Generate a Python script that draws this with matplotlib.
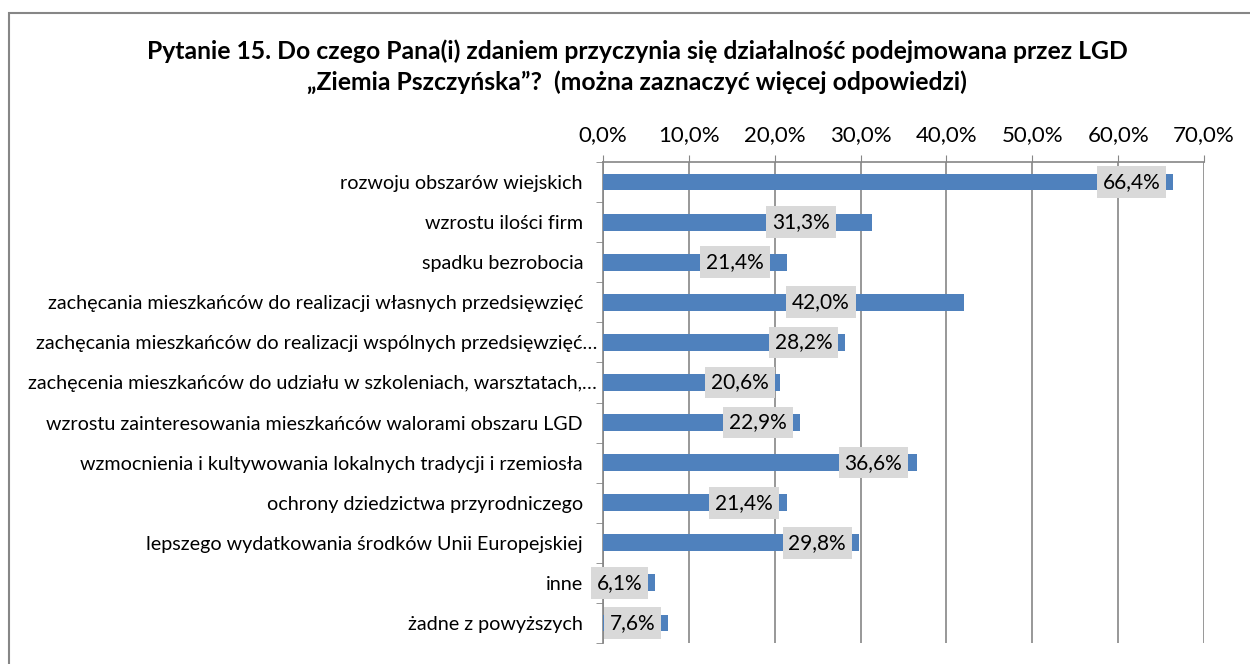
import matplotlib.pyplot as plt
from matplotlib.patches import Rectangle
from matplotlib.ticker import FixedLocator, FuncFormatter
from matplotlib.transforms import ScaledTranslation

# Dane z wykresu
categories = [
    "rozwoju obszarów wiejskich",
    "wzrostu ilości firm",
    "spadku bezrobocia",
    "zachęcania mieszkańców do realizacji własnych przedsięwzięć",
    "zachęcania mieszkańców do realizacji wspólnych przedsięwzięć…",
    "zachęcenia mieszkańców do udziału w szkoleniach, warsztatach,…",
    "wzrostu zainteresowania mieszkańców walorami obszaru LGD",
    "wzmocnienia i kultywowania lokalnych tradycji i rzemiosła",
    "ochrony dziedzictwa przyrodniczego",
    "lepszego wydatkowania środków Unii Europejskiej",
    "inne",
    "żadne z powyższych",
]
values = [66.4, 31.3, 21.4, 42.0, 28.2, 20.6, 22.9, 36.6, 21.4, 29.8, 6.1, 7.6]
x_ticks = [0, 10, 20, 30, 40, 50, 60, 70]

# przesunięcie prawej krawędzi ramki etykiety względem końca słupka (piksele)
label_shift = [-7, -36, -17, -108, -7, -5, -7, -9, -8, -7, -7, -7]

title = ("Pytanie 15. Do czego Pana(i) zdaniem przyczynia się działalność podejmowana przez LGD\n"
         "„Ziemia Pszczyńska”?  (można zaznaczyć więcej odpowiedzi)")

plt.rcParams['font.family'] = ['Lato', 'DejaVu Sans']
grey = '#868686'

fig = plt.figure(figsize=(12.5, 6.64), dpi=100)
ax = fig.add_axes([0.4824, 0.0316, 0.4808, 0.7244])

y = list(range(len(categories)))
ax.barh(y, values, height=0.42, color='#4F81BD', zorder=3)

# Etykiety danych w szarych ramkach
fs = 15
pad_px = 0.28 * fs * 100 / 72
for i, v in enumerate(values):
    ax.annotate(f"{v:.1f}%".replace('.', ','), xy=(v, i),
                xytext=(label_shift[i] - pad_px, 0), textcoords='offset pixels',
                ha='right', va='center', fontsize=fs, color='#000000', zorder=4,
                bbox=dict(boxstyle='square,pad=0.28', fc='#D9D9D9', ec='none'))

ax.set_xlim(0, 70)
ax.set_ylim(len(categories) - 0.5, -0.5)

ax.xaxis.tick_top()
ax.set_xticks(x_ticks)
ax.xaxis.set_major_formatter(FuncFormatter(lambda v, p: f"{v:.1f}%".replace('.', ',')))
ax.tick_params(axis='x', which='major', direction='out', length=5, color=grey,
               labelsize=16, pad=7)
ax.grid(axis='x', color=grey, linewidth=1.2, zorder=0)

ax.set_yticks(y)
ax.set_yticklabels(categories, fontsize=14.2)
ax.yaxis.set_minor_locator(FixedLocator([k - 0.5 for k in range(len(categories) + 1)]))
ax.tick_params(axis='y', which='major', length=0, pad=14.4)
ax.tick_params(axis='y', which='minor', length=5, color=grey)

# etykiety skrócone wielokropkiem sięgają bliżej osi
for lab in ax.get_yticklabels():
    if lab.get_text().endswith('…'):
        lab.set_transform(lab.get_transform() + ScaledTranslation(0.14, 0, fig.dpi_scale_trans))

for side in ['right', 'bottom']:
    ax.spines[side].set_visible(False)
for side in ['left', 'top']:
    ax.spines[side].set_color(grey)
    ax.spines[side].set_linewidth(1.2)

fig.text(0.5096, 0.899, title, ha='center', va='center', fontsize=17.8,
         fontweight='bold', linespacing=1.38)

# Ramka wokół wykresu
fig.patches.append(Rectangle((9 / 1250, -0.05), 1.05, 1.05 - 13 / 664 + 0.0,
                             transform=fig.transFigure, fill=False, ec=grey,
                             lw=1.5, clip_on=False))

plt.savefig('out.png', dpi=100)
